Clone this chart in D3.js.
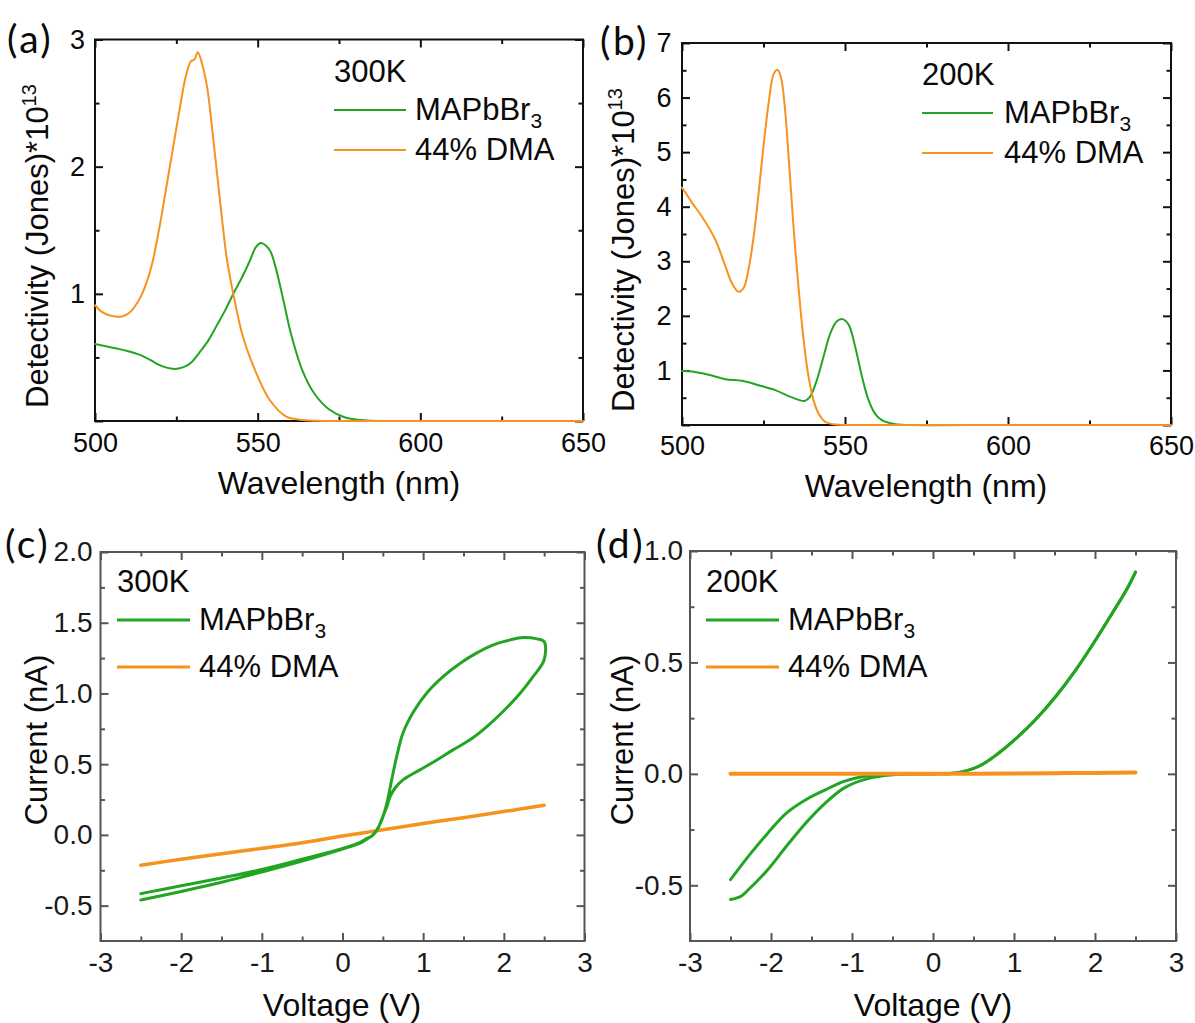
<!DOCTYPE html>
<html>
<head>
<meta charset="utf-8">
<script src="https://cdn.jsdelivr.net/npm/d3@7"></script>
<style>
  html, body { margin: 0; padding: 0; background: #fff; }
  svg { display: block; font-family: "Liberation Sans", Arial, Helvetica, sans-serif; }
</style>
</head>
<body>
<svg id="fig" width="1195" height="1023"></svg>
<script>
// ---------- data: detectivity spectra (Jones ×10^13) ----------
// (a) 300 K
const wl300Green  = [500, 503, 506.7, 510, 513.8, 517, 519, 522, 524.1, 526, 528.2, 530, 532.3, 535, 537.4, 540, 542.5, 545, 547.6, 549.5, 551, 552.5, 554, 555.5, 557.9, 560.2, 563.7, 567.3, 572, 576.7, 582.6, 590, 620, 650];
const det300Green = [0.605, 0.59, 0.57, 0.55, 0.52, 0.48, 0.45, 0.42, 0.41, 0.415, 0.435, 0.47, 0.545, 0.64, 0.75, 0.87, 1.0, 1.12, 1.26, 1.37, 1.40, 1.38, 1.33, 1.21, 0.95, 0.69, 0.40, 0.22, 0.09, 0.03, 0.005, 0, 0, 0];
const wl300Orange  = [500, 502, 504.6, 508, 510, 511.3, 513, 514.3, 516, 517.5, 520, 522, 524, 526, 528, 529.5, 530.5, 531.6, 533, 534.5, 536, 537.5, 539, 540.5, 542.5, 545.5, 549.6, 553.7, 558.8, 563, 568, 575, 610, 650];
const det300Orange = [0.91, 0.86, 0.83, 0.82, 0.84, 0.87, 0.93, 0.99, 1.10, 1.23, 1.55, 1.85, 2.15, 2.45, 2.72, 2.83, 2.84, 2.90, 2.80, 2.62, 2.30, 1.95, 1.60, 1.28, 1.00, 0.66, 0.375, 0.165, 0.034, 0.01, 0.002, 0, 0, 0];

// (b) 200 K
const wl200Green  = [500, 503.1, 508.2, 513.3, 518.4, 523.5, 528.6, 532.7, 535.8, 537.6, 539.3, 541.4, 543.4, 545.5, 547.5, 549.2, 551.1, 553.1, 555.2, 557.2, 559.2, 561.3, 563.5, 566, 570, 600, 650];
const det200Green = [0.99, 0.98, 0.92, 0.84, 0.81, 0.73, 0.64, 0.53, 0.46, 0.44, 0.52, 0.83, 1.25, 1.68, 1.90, 1.94, 1.84, 1.44, 0.89, 0.46, 0.21, 0.09, 0.04, 0.01, 0, 0, 0];
const wl200Orange  = [500, 501.5, 503.1, 506.1, 510.2, 513.3, 515.3, 517.4, 518.9, 520.4, 522, 523.5, 525, 526.6, 528.1, 529.3, 530.4, 531.7, 532.9, 534.2, 535.8, 537.3, 538.8, 540.3, 541.9, 543.9, 547, 551, 600, 650];
const det200Orange = [4.35, 4.22, 4.07, 3.82, 3.40, 2.91, 2.60, 2.44, 2.51, 2.85, 3.46, 4.25, 5.11, 5.91, 6.43, 6.51, 6.36, 5.72, 4.74, 3.64, 2.48, 1.56, 0.89, 0.46, 0.21, 0.06, 0.01, 0, 0, 0];

// ---------- data: I–V sweeps (nA) ----------
// (c) 300 K, MAPbBr3 hysteresis loop traced in sweep order
const v300Green = [-2.5, -2, -1.5, -1, -0.5, 0, 0.22, 0.3, 0.36, 0.42, 0.49, 0.55, 0.61, 0.67, 0.75, 0.88, 1.04, 1.25, 1.46, 1.66, 1.87, 2.08, 2.24, 2.41, 2.5,
                   2.5, 2.365, 2.2, 1.99, 1.79, 1.58, 1.37, 1.17, 0.96, 0.75, 0.65, 0.59, 0.55, 0.5, 0.44, 0.38, 0.3, 0.22, 0, -0.5, -1, -1.5, -2, -2.5];
const i300Green = [-0.415, -0.36, -0.305, -0.245, -0.172, -0.095, -0.052, -0.025, -0.01, 0.03, 0.11, 0.225, 0.39, 0.55, 0.72, 0.87, 1.0, 1.12, 1.214, 1.285, 1.344, 1.379, 1.395, 1.386, 1.367,
                   1.238, 1.12, 1.0, 0.872, 0.766, 0.672, 0.601, 0.53, 0.46, 0.389, 0.33, 0.271, 0.2, 0.13, 0.047, 0.0, -0.03, -0.058, -0.1, -0.185, -0.262, -0.335, -0.40, -0.46];
const v300Orange = [-2.5, -2, -1.5, -1, -0.5, 0, 0.5, 1, 1.5, 2, 2.5];
const i300Orange = [-0.214, -0.172, -0.133, -0.095, -0.055, -0.008, 0.036, 0.08, 0.122, 0.165, 0.21];

// (d) 200 K, MAPbBr3 forward and reverse sweeps
const v200GreenFwd = [-2.5, -2.28, -2.04, -1.81, -1.57, -1.33, -1.10, -0.86, -0.62, -0.39, 0, 0.28, 0.56, 0.80, 1.03, 1.27, 1.51, 1.75, 1.98, 2.22, 2.41, 2.5];
const i200GreenFwd = [-0.475, -0.37, -0.266, -0.176, -0.116, -0.072, -0.034, -0.012, -0.003, 0, 0, 0.004, 0.033, 0.09, 0.16, 0.245, 0.345, 0.46, 0.585, 0.725, 0.84, 0.905];
const v200GreenRev = [2.5, 2.41, 2.22, 1.98, 1.75, 1.51, 1.27, 1.03, 0.80, 0.56, 0.28, 0, -0.15, -0.39, -0.62, -0.86, -1.10, -1.33, -1.57, -1.81, -2.04, -2.28, -2.37, -2.5];
const i200GreenRev = [0.905, 0.84, 0.725, 0.585, 0.46, 0.345, 0.245, 0.16, 0.09, 0.033, 0.004, 0, 0, -0.002, -0.009, -0.027, -0.064, -0.131, -0.22, -0.325, -0.43, -0.52, -0.549, -0.564];
const v200Orange = [-2.5, -2, -1.5, -1, -0.5, 0, 0.5, 1, 1.5, 2, 2.5];
const i200Orange = [0, 0, 0, 0, 0, 0, 0.001, 0.002, 0.003, 0.004, 0.006];

// ---------- tick values ----------
const wlMajor = [500, 550, 600, 650];
const wlMinor = [525, 575, 625];
const detMajorA = [0, 1, 2, 3];
const detMinorA = [0.5, 1.5, 2.5];
const detMajorB = [0, 1, 2, 3, 4, 5, 6, 7];
const detMinorB = [0.5, 1.5, 2.5, 3.5, 4.5, 5.5, 6.5];
const voltMajor = [-3, -2, -1, 0, 1, 2, 3];
const voltMinor = [-2.5, -1.5, -0.5, 0.5, 1.5, 2.5];
const curMajorC = [-0.5, 0, 0.5, 1.0, 1.5, 2.0];
const curMinorC = [-0.25, 0.25, 0.75, 1.25, 1.75];
const curMajorD = [-0.5, 0, 0.5, 1.0];
const curMinorD = [-0.25, 0.25, 0.75];

const GREEN = "#22a522";
const ORANGE = "#f7921e";
const TEXT = "#0a0a0a";

const zip = (xs, ys) => xs.map((v, i) => [v, ys[i]]);

const svg = d3.select("#fig");

function drawPanel(p) {
  const g = svg.append("g");
  const x = d3.scaleLinear().domain(p.xDomain).range([p.left, p.right]);
  const y = d3.scaleLinear().domain(p.yDomain).range([p.bottom, p.top]);

  // frame
  g.append("rect")
    .attr("x", p.left).attr("y", p.top)
    .attr("width", p.right - p.left).attr("height", p.bottom - p.top)
    .attr("fill", "none").attr("stroke", p.frameColor).attr("stroke-width", 2);

  const styleAxis = (sel, labelSize) => {
    sel.attr("font-family", null).attr("font-size", null);
    sel.select(".domain").remove();
    sel.selectAll(".tick line").attr("stroke", p.frameColor).attr("stroke-width", 2);
    sel.selectAll(".tick text")
      .attr("fill", p.labelColor)
      .style("font-size", labelSize + "px")
      .style("font-family", '"Liberation Sans", Arial, sans-serif');
  };

  const noLabelAt = p.hideLabels || [];
  const fmt = v => noLabelAt.includes(v) ? "" : p.yFormat(v);

  // bottom (labelled) and top (mirror)
  g.append("g").attr("transform", `translate(0,${p.bottom})`)
    .call(d3.axisBottom(x).tickValues(p.xMajor).tickSize(-8).tickPadding(p.xPad).tickFormat(p.xFormat))
    .call(s => styleAxis(s, p.tickFont));
  g.append("g").attr("transform", `translate(0,${p.bottom})`)
    .call(d3.axisBottom(x).tickValues(p.xMinor).tickSize(-4.5).tickFormat(""))
    .call(s => styleAxis(s, p.tickFont));
  g.append("g").attr("transform", `translate(0,${p.top})`)
    .call(d3.axisTop(x).tickValues(p.xMajor).tickSize(-8).tickFormat(""))
    .call(s => styleAxis(s, p.tickFont));
  g.append("g").attr("transform", `translate(0,${p.top})`)
    .call(d3.axisTop(x).tickValues(p.xMinor).tickSize(-4.5).tickFormat(""))
    .call(s => styleAxis(s, p.tickFont));

  // left (labelled) and right (mirror)
  g.append("g").attr("transform", `translate(${p.left},0)`)
    .call(d3.axisLeft(y).tickValues(p.yMajor).tickSize(-8).tickPadding(p.yPad).tickFormat(fmt))
    .call(s => styleAxis(s, p.tickFont));
  g.append("g").attr("transform", `translate(${p.left},0)`)
    .call(d3.axisLeft(y).tickValues(p.yMinor).tickSize(-4.5).tickFormat(""))
    .call(s => styleAxis(s, p.tickFont));
  g.append("g").attr("transform", `translate(${p.right},0)`)
    .call(d3.axisRight(y).tickValues(p.yMajor).tickSize(-8).tickFormat(""))
    .call(s => styleAxis(s, p.tickFont));
  g.append("g").attr("transform", `translate(${p.right},0)`)
    .call(d3.axisRight(y).tickValues(p.yMinor).tickSize(-4.5).tickFormat(""))
    .call(s => styleAxis(s, p.tickFont));

  // data curves
  const line = d3.line()
    .x(d => x(d[0])).y(d => y(d[1]))
    .curve(d3.curveCatmullRom.alpha(0.5));
  p.series.forEach(s => {
    g.append("path")
      .datum(s.points)
      .attr("d", line)
      .attr("fill", "none")
      .attr("stroke", s.color)
      .attr("stroke-width", s.width)
      .attr("stroke-linejoin", "round")
      .attr("stroke-linecap", "round");
  });

  // axis titles
  g.append("text")
    .attr("x", p.xTitlePos[0]).attr("y", p.xTitlePos[1])
    .attr("text-anchor", "middle")
    .style("font-size", "32px").attr("fill", TEXT)
    .text(p.xTitle);

  const yt = g.append("text")
    .attr("transform", `translate(${p.yTitlePos[0]},${p.yTitlePos[1]}) rotate(-90)`)
    .attr("text-anchor", "middle")
    .style("font-size", "31px").attr("fill", TEXT);
  yt.append("tspan").text(p.yTitle);
  if (p.yTitleSup) {
    yt.append("tspan").attr("dy", -12).style("font-size", "20px").text(p.yTitleSup);
  }

  // legend
  const L = p.legend;
  g.append("text").attr("x", L.x).attr("y", L.tempY)
    .style("font-size", "31px").attr("fill", TEXT).text(L.temp);
  L.items.forEach((it, i) => {
    const ly = L.lineY + i * L.step;
    g.append("line")
      .attr("x1", L.x).attr("x2", L.x + L.len)
      .attr("y1", ly).attr("y2", ly)
      .attr("stroke", it.color).attr("stroke-width", L.lw);
    const t = g.append("text")
      .attr("x", L.textX).attr("y", ly + 10)
      .style("font-size", "31px").attr("fill", TEXT);
    t.append("tspan").text(it.label);
    if (it.sub) {
      t.append("tspan").attr("dy", 8).style("font-size", "21px").text(it.sub);
    }
  });

  // panel tag
  g.append("text")
    .attr("x", p.tag[0]).attr("y", p.tag[1])
    .style("font-family", "Lato, 'Open Sans', sans-serif")
    .style("font-size", "39px")
    .style("letter-spacing", "2.5px")
    .attr("fill", TEXT)
    .text(p.tag[2]);
}

const intFmt = d3.format("d");
const oneDec = v => v.toFixed(1);
const plain = v => String(v);

// (a)
drawPanel({
  left: 95, right: 583, top: 39.5, bottom: 421,
  xDomain: [500, 650], yDomain: [0, 3],
  xMajor: wlMajor, xMinor: wlMinor, yMajor: detMajorA, yMinor: detMinorA,
  xFormat: intFmt, yFormat: intFmt, hideLabels: [0],
  xPad: 12, yPad: 10, tickFont: 27,
  frameColor: "#111", labelColor: TEXT,
  xTitle: "Wavelength (nm)", xTitlePos: [339, 494],
  yTitle: "Detectivity (Jones)*10", yTitleSup: "13", yTitlePos: [48, 246],
  series: [
    { points: zip(wl300Green, det300Green), color: GREEN, width: 2 },
    { points: zip(wl300Orange, det300Orange), color: ORANGE, width: 2 }
  ],
  legend: { x: 334, len: 72, textX: 415, temp: "300K", tempY: 82, lineY: 110, step: 40, lw: 2,
            items: [{ label: "MAPbBr", sub: "3", color: GREEN }, { label: "44% DMA", color: ORANGE }] },
  tag: [7, 53, "(a)"]
});

// (b)
drawPanel({
  left: 682, right: 1171, top: 43, bottom: 425,
  xDomain: [500, 650], yDomain: [0, 7],
  xMajor: wlMajor, xMinor: wlMinor, yMajor: detMajorB, yMinor: detMinorB,
  xFormat: intFmt, yFormat: intFmt, hideLabels: [0],
  xPad: 10.5, yPad: 10.5, tickFont: 27,
  frameColor: "#111", labelColor: TEXT,
  xTitle: "Wavelength (nm)", xTitlePos: [926, 497],
  yTitle: "Detectivity (Jones)*10", yTitleSup: "13", yTitlePos: [634, 250],
  series: [
    { points: zip(wl200Green, det200Green), color: GREEN, width: 2 },
    { points: zip(wl200Orange, det200Orange), color: ORANGE, width: 2 }
  ],
  legend: { x: 922, len: 71, textX: 1004, temp: "200K", tempY: 85, lineY: 113, step: 40, lw: 2,
            items: [{ label: "MAPbBr", sub: "3", color: GREEN }, { label: "44% DMA", color: ORANGE }] },
  tag: [600, 55, "(b)"]
});

// (c)
drawPanel({
  left: 100.5, right: 584.5, top: 552, bottom: 941,
  xDomain: [-3, 3], yDomain: [-0.75, 2.0],
  xMajor: voltMajor, xMinor: voltMinor, yMajor: curMajorC, yMinor: curMinorC,
  xFormat: plain, yFormat: oneDec,
  xPad: 11.5, yPad: 8, tickFont: 28,
  frameColor: "#555", labelColor: "#1a1a1a",
  xTitle: "Voltage (V)", xTitlePos: [342, 1016],
  yTitle: "Current (nA)", yTitlePos: [47, 740],
  series: [
    { points: zip(v300Orange, i300Orange), color: ORANGE, width: 3.5 },
    { points: zip(v300Green, i300Green), color: GREEN, width: 3 }
  ],
  legend: { x: 117, len: 73, textX: 199, temp: "300K", tempY: 592, lineY: 620, step: 47, lw: 3,
            items: [{ label: "MAPbBr", sub: "3", color: GREEN }, { label: "44% DMA", color: ORANGE }] },
  tag: [5, 558, "(c)"]
});

// (d)
drawPanel({
  left: 690, right: 1176, top: 551, bottom: 941,
  xDomain: [-3, 3], yDomain: [-0.75, 1.0],
  xMajor: voltMajor, xMinor: voltMinor, yMajor: curMajorD, yMinor: curMinorD,
  xFormat: plain, yFormat: oneDec,
  xPad: 11.5, yPad: 7, tickFont: 28,
  frameColor: "#555", labelColor: "#1a1a1a",
  xTitle: "Voltage (V)", xTitlePos: [933, 1016],
  yTitle: "Current (nA)", yTitlePos: [633, 740],
  series: [
    { points: zip(v200GreenFwd, i200GreenFwd), color: GREEN, width: 3 },
    { points: zip(v200GreenRev, i200GreenRev), color: GREEN, width: 3 },
    { points: zip(v200Orange, i200Orange), color: ORANGE, width: 4 }
  ],
  legend: { x: 706, len: 73, textX: 788, temp: "200K", tempY: 592, lineY: 620, step: 47, lw: 3,
            items: [{ label: "MAPbBr", sub: "3", color: GREEN }, { label: "44% DMA", color: ORANGE }] },
  tag: [596, 558, "(d)"]
});
</script>
</body>
</html>
